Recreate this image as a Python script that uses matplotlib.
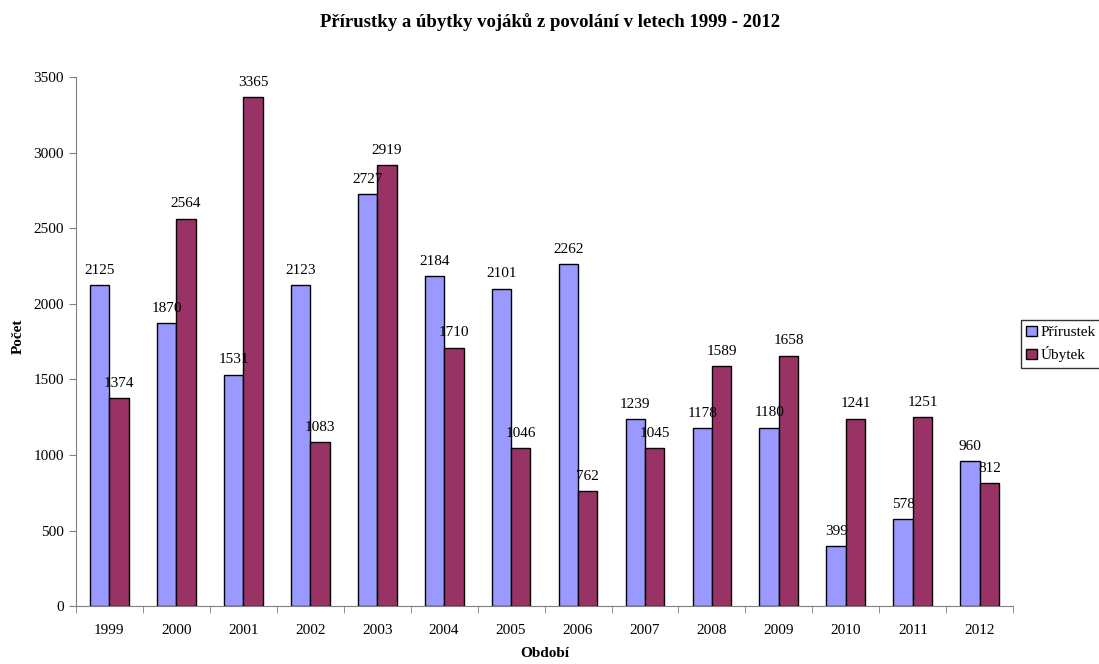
import numpy as np
import matplotlib
matplotlib.use("Agg")
import matplotlib.pyplot as plt

years = ["1999", "2000", "2001", "2002", "2003", "2004", "2005",
         "2006", "2007", "2008", "2009", "2010", "2011", "2012"]
prirustek = [2125, 1870, 1531, 2123, 2727, 2184, 2101, 2262, 1239, 1178, 1180, 399, 578, 960]
ubytek = [1374, 2564, 3365, 1083, 2919, 1710, 1046, 762, 1045, 1589, 1658, 1241, 1251, 812]

plt.rcParams['font.family'] = ['Liberation Serif', 'DejaVu Serif']
plt.rcParams['font.size'] = 11

fig = plt.figure(figsize=(10.99, 6.64), dpi=100)
ax = fig.add_axes([0.069, 0.087, 0.853, 0.797])

x = np.arange(len(years))
w = 0.29
b1 = ax.bar(x - w / 2, prirustek, w, color="#9999FF", edgecolor="black", linewidth=1, label="Přírustek")
b2 = ax.bar(x + w / 2, ubytek, w, color="#993366", edgecolor="black", linewidth=1, label="Úbytek")

# data labels above each bar
for bars, vals in ((b1, prirustek), (b2, ubytek)):
    for rect, v in zip(bars, vals):
        ax.annotate(str(v), (rect.get_x() + rect.get_width() / 2, v),
                    xytext=(0, 6), textcoords="offset points",
                    ha="center", va="bottom", fontsize=11)

ax.set_xlim(-0.5, len(years) - 0.5)
ax.set_ylim(0, 3500)
ax.set_yticks(np.arange(0, 3501, 500))
ax.set_xticks(x)
ax.set_xticklabels(years)
ax.set_xticks(np.arange(-0.5, len(years)), minor=True)
ax.tick_params(axis="x", which="major", length=0, pad=13)
ax.tick_params(axis="x", which="minor", length=5, direction="out", color="#808080")
ax.tick_params(axis="y", length=5, direction="out", color="#808080")

for s in ("top", "right"):
    ax.spines[s].set_visible(False)
for s in ("left", "bottom"):
    ax.spines[s].set_color("#808080")

ax.set_ylabel("Počet", fontweight="bold")
ax.yaxis.set_label_coords(-0.054, 0.51)
ax.set_xlabel("Období", fontweight="bold", labelpad=7)
fig.suptitle("Přírustky a úbytky vojáků z povolání v letech 1999 - 2012",
             fontweight="bold", fontsize=13.5, y=0.98)

leg = ax.legend(loc="center left", bbox_to_anchor=(0.922, 0.482),
                bbox_transform=fig.transFigure, frameon=True, fancybox=False,
                edgecolor="black", fontsize=11, handlelength=0.7, handleheight=0.7,
                handletextpad=0.25, borderpad=0.35, labelspacing=0.45)
leg.get_frame().set_linewidth(1)

fig.savefig("out.png", dpi=100)
